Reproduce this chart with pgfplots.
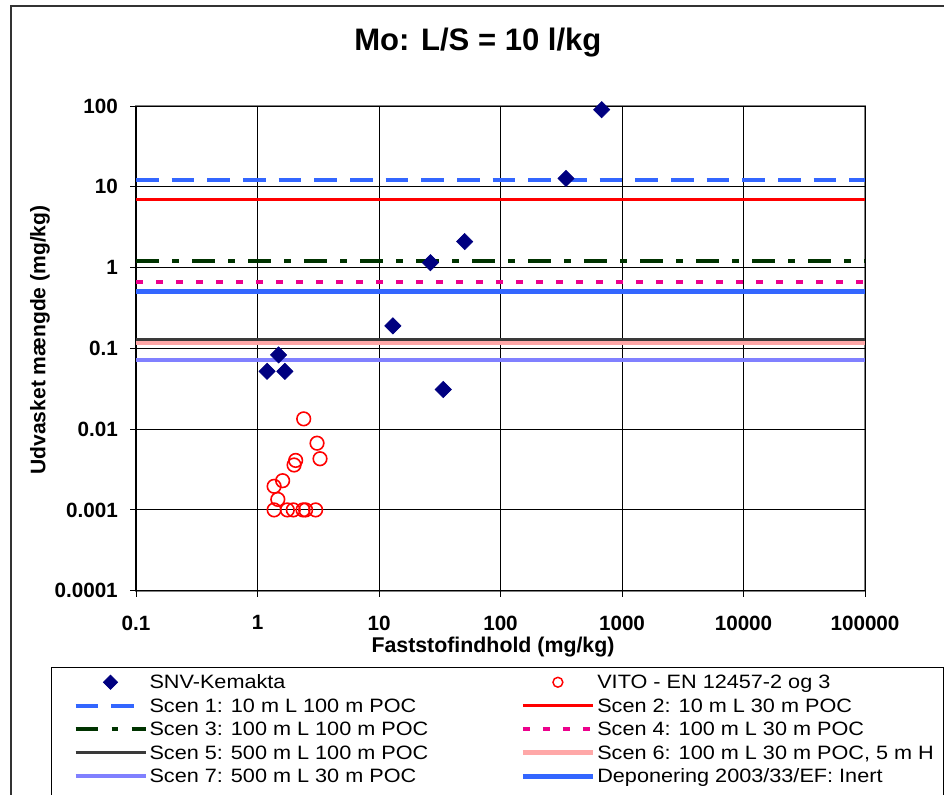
\documentclass[border=0pt]{standalone}
\usepackage{fontspec}
\setmainfont{Liberation Sans}
\newfontfamily\legendfont[FakeStretch=1.12]{Liberation Sans}
\usepackage{pgfplots}
\usepackage{pgfplotstable}
\pgfplotsset{compat=1.18}

\definecolor{snvnavy}{HTML}{000080}
\definecolor{scenblue}{HTML}{3366FF}
\definecolor{scengreen}{HTML}{003300}
\definecolor{scengray}{HTML}{3A3A3A}
\definecolor{scenpink}{HTML}{FFA8A8}
\definecolor{scenlilac}{HTML}{8080FF}
\definecolor{framegray}{HTML}{808080}

% fixed-width legend texts, left and right column
\newcommand\legL[1]{\makebox[276.75pt][l]{#1}}
\newcommand\legR[1]{\makebox[241.5pt][l]{#1}}

% SNV-Kemakta: solid content vs. leached amount
\pgfplotstableread{
x y
1.20 0.052
1.49 0.083
1.68 0.052
13.0 0.19
26.5 1.15
33.8 0.031
50.7 2.1
346 12.7
680 90
}\snvdata

% VITO - EN 12457-2 og 3
\pgfplotstableread{
x y
2.40 0.0134
3.09 0.0067
3.27 0.0043
2.06 0.0041
2.00 0.0036
1.61 0.0023
1.37 0.00196
1.47 0.00135
1.37 0.001
1.76 0.001
1.97 0.001
2.37 0.001
2.49 0.001
3.01 0.001
}\vitodata

\begin{document}
\begin{tikzpicture}
\useasboundingbox (0,0) rectangle (708pt,-595.5pt);
\clip (0,0) rectangle (708pt,-595.5pt);
% chart area frame
\draw[line width=1.4pt, black!80] (8.25pt,-4.5pt) rectangle (740pt,-640pt);
\begin{axis}[
  at={(102pt,-443pt)}, anchor=south west,
  scale only axis, width=546.75pt, height=363.5pt,
  xmode=log, ymode=log,
  xmin=0.1, xmax=100000, ymin=0.0001, ymax=100,
  xtick={0.1,1,10,100,1000,10000,100000},
  xticklabels={0.1,1,10,100,1000,10000,100000},
  ytick={0.0001,0.001,0.01,0.1,1,10,100},
  yticklabels={0.0001,0.001,0.01,0.1,1,10,100},
  xminorticks=false, yminorticks=false,
  /pgf/number format/assume math mode=true,
  axis x line*=bottom, axis y line*=left,
  axis line style={black, line width=0.9pt},
  axis background/.style={draw=framegray, line width=1.5pt},
  tick align=outside, major tick length=4.5pt,
  tick style={black, line width=0.75pt},
  grid=major, major grid style={black, line width=0.75pt},
  ticklabel style={font=\bfseries\fontsize{15.5}{18}\selectfont},
  xticklabel style={anchor=north, inner sep=0pt, yshift=-14pt},
  yticklabel style={anchor=east, inner sep=0pt, xshift=-9pt},
  title={Mo: L/S = 10 l/kg},
  title style={font=\bfseries\fontsize{23.3}{28}\selectfont, at={(axis description cs:0.469,1.099)}, anchor=base},
  xlabel={Faststofindhold (mg/kg)},
  xlabel style={font=\bfseries\fontsize{16}{19}\selectfont, at={(axis description cs:0.4897,-0.1285)}, anchor=base},
  ylabel={Udvasket mængde (mg/kg)},
  ylabel style={font=\bfseries\fontsize{15.8}{19}\selectfont, at={(axis description cs:-0.1317,0.5172)}, anchor=center},
  legend columns=2,
  legend cell align=left,
  legend image code/.code={\draw[mark repeat=2,mark phase=2,#1] plot coordinates {(0pt,0pt) (26.25pt,0pt) (52.5pt,0pt)};},
  legend style={at={(axis description cs:-0.1166,-0.1568)}, anchor=north west,
    draw=black, line width=0.75pt, inner xsep=16.5pt, inner ysep=2.5pt,
    font=\legendfont\fontsize{14.5}{16}\selectfont,
    nodes={inner xsep=1.5pt, inner ysep=0pt, text height=13.67pt, text depth=3.93pt}},
]
% legend entries for the two measurement series
\addlegendimage{only marks, mark=square*, mark size=3.8pt, mark options={rotate=45, draw=snvnavy, fill=snvnavy, line width=0.5pt}}
\addlegendentry{\legL{SNV-Kemakta}}
\addlegendimage{only marks, mark=o, mark size=3.7pt, mark options={draw=red, line width=1.1pt}}
\addlegendentry{\legR{VITO - EN 12457-2 og 3}}

% scenario limit values
\addplot[scenblue, line width=3pt, dash pattern=on 17pt off 9.75pt] coordinates {(0.1,12.1) (100000,12.1)};
\addlegendentry{\legL{Scen 1: 10 m L 100 m POC}}
\addplot[red, line width=2.25pt] coordinates {(0.1,6.9) (100000,6.9)};
\addlegendentry{\legR{Scen 2: 10 m L 30 m POC}}
\addplot[scengreen, line width=3pt, dash pattern=on 17pt off 10pt on 5pt off 10pt] coordinates {(0.1,1.2) (100000,1.2)};
\addlegendentry{\legL{Scen 3: 100 m L 100 m POC}}
\addplot[magenta, line width=2.6pt, dash pattern=on 5pt off 10pt] coordinates {(0.1,0.66) (100000,0.66)};
\addlegendentry{\legR{Scen 4: 100 m L 30 m POC}}
\addplot[scengray, line width=2pt] coordinates {(0.1,0.128) (100000,0.128)};
\addlegendentry{\legL{Scen 5: 500 m L 100 m POC}}
\addplot[scenpink, line width=3.4pt] coordinates {(0.1,0.116) (100000,0.116)};
\addlegendentry{\legR{Scen 6: 100 m L 30 m POC, 5 m H}}
\addplot[scenlilac, line width=3pt] coordinates {(0.1,0.072) (100000,0.072)};
\addlegendentry{\legL{Scen 7: 500 m L 30 m POC}}
\addplot[scenblue, line width=3.6pt] coordinates {(0.1,0.5) (100000,0.5)};
\addlegendentry{\legR{Deponering 2003/33/EF: Inert}}
% spacer row below the last entries
\addlegendimage{empty legend}
\addlegendentry{}
\addlegendimage{empty legend}
\addlegendentry{}

% measured data on top of the limit lines
\addplot[only marks, mark=square*, mark size=4.3pt, mark options={rotate=45, draw=snvnavy, fill=snvnavy, line width=0.5pt}, forget plot] table[x=x, y=y] {\snvdata};
\addplot[only marks, mark=o, mark size=5.1pt, mark options={draw=red, line width=1.2pt}, forget plot] table[x=x, y=y] {\vitodata};
\end{axis}
\end{tikzpicture}
\end{document}
